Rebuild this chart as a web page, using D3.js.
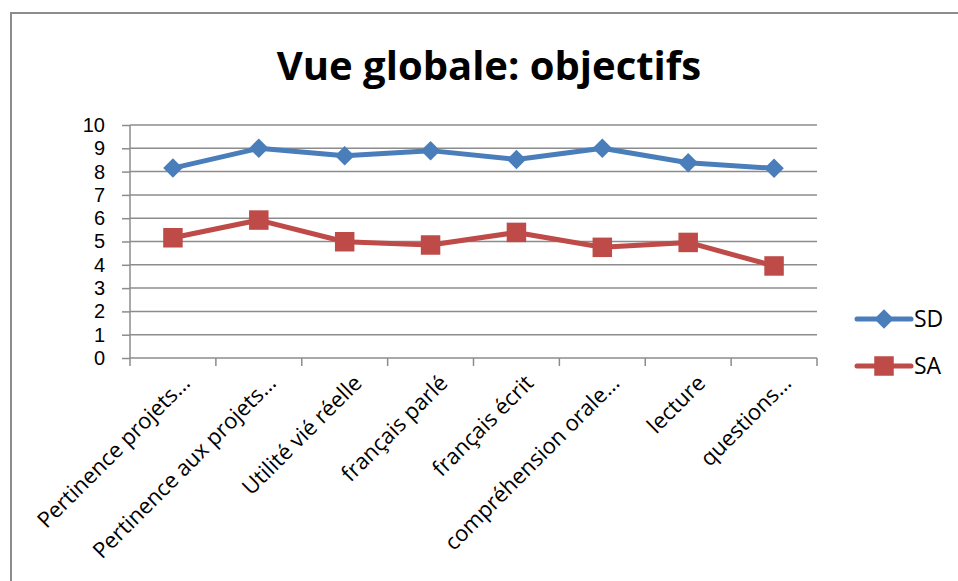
<!DOCTYPE html>
<html>
<head>
<meta charset="utf-8">
<script src="https://d3js.org/d3.v7.min.js"></script>
<style>
  html, body { margin: 0; padding: 0; background: #fff; }
  svg { display: block; font-family: "Open Sans", sans-serif; }
</style>
</head>
<body>
<div id="chart"></div>
<script>
const categories = [
    "Pertinence projets…",
    "Pertinence aux projets…",
    "Utilité vié réelle",
    "français parlé",
    "français écrit",
    "compréhension orale…",
    "lecture",
    "questions…"
];
const sdValues = [8.15, 9.0, 8.68, 8.9, 8.52, 9.0, 8.38, 8.14];
const saValues = [5.16, 5.92, 4.99, 4.85, 5.39, 4.75, 4.96, 3.95];
const yTicks = [0, 1, 2, 3, 4, 5, 6, 7, 8, 9, 10];

// diamond = square turned 45deg
const series = [
    { name: "SD", values: sdValues, color: "#4A7EBB", marker: d3.symbolSquare, size: 190, rot: 45 },
    { name: "SA", values: saValues, color: "#BE4B48", marker: d3.symbolSquare, size: 380, rot: 0 }
];

const width = 958, height = 581;
const plot = { left: 130, right: 817, top: 125, bottom: 358 };

const svg = d3.select("#chart").append("svg")
    .attr("width", width)
    .attr("height", height);

// chart area frame (only top & left edges show in the picture)
svg.append("path")
    .attr("d", `M11,${height + 5} V13 H${width + 5}`)
    .attr("fill", "none")
    .attr("stroke", "#8c8c8c")
    .attr("stroke-width", 2);

svg.append("text")
    .attr("x", 489)
    .attr("y", 80)
    .attr("text-anchor", "middle")
    .style("font-size", "40px")
    .style("font-weight", "bold")
    .text("Vue globale: objectifs");

const x = d3.scaleBand()
    .domain(categories)
    .range([plot.left, plot.right]);

const y = d3.scaleLinear()
    .domain([0, 10])
    .range([plot.bottom, plot.top]);

// gridlines
svg.append("g")
    .selectAll("line")
    .data(yTicks.filter(t => t > 0))
    .enter()
    .append("line")
    .attr("x1", plot.left)
    .attr("x2", plot.right)
    .attr("y1", d => y(d))
    .attr("y2", d => y(d))
    .style("stroke", "#8c8c8c")
    .style("stroke-width", "1.5px");

// y axis
const yAxis = svg.append("g")
    .attr("transform", `translate(${plot.left},0)`)
    .call(d3.axisLeft(y).tickValues(yTicks).tickSize(8).tickPadding(17));
yAxis.selectAll("line, path").style("stroke", "#8c8c8c").style("stroke-width", "1.5px");
yAxis.select(".domain").attr("d", `M0,${plot.top}V${plot.bottom}`);
yAxis.selectAll("text")
    .style("font-size", "20px")
    .style("font-family", "'Liberation Sans', sans-serif")
    .attr("fill", "#000");

// x axis
const xAxis = svg.append("g")
    .attr("transform", `translate(0,${plot.bottom})`)
    .call(d3.axisBottom(x).tickSize(0).tickFormat(""));
xAxis.select(".domain").style("stroke", "#8c8c8c").style("stroke-width", "1.5px")
    .attr("d", `M${plot.left},0H${plot.right}`);

const bounds = x.domain().map(c => x(c)).concat([plot.right]);
xAxis.selectAll(".xtick")
    .data(bounds)
    .enter()
    .append("line")
    .attr("x1", d => d)
    .attr("x2", d => d)
    .attr("y1", 0)
    .attr("y2", 8)
    .style("stroke", "#8c8c8c")
    .style("stroke-width", "1.5px");

svg.append("g")
    .selectAll("text")
    .data(categories)
    .enter()
    .append("text")
    .attr("transform", d => `translate(${x(d) + x.bandwidth() / 2 + 13},${plot.bottom + 21}) rotate(-45)`)
    .attr("text-anchor", "end")
    .attr("dy", "0.35em")
    .style("font-size", "22px")
    .text(d => d);

// lines & markers
const line = d3.line()
    .x((d, i) => x(categories[i]) + x.bandwidth() / 2)
    .y(d => y(d));

series.forEach(s => {
    svg.append("path")
        .datum(s.values)
        .attr("fill", "none")
        .attr("stroke", s.color)
        .attr("stroke-width", 5)
        .attr("stroke-linejoin", "round")
        .attr("d", line);

    svg.append("g")
        .selectAll("path")
        .data(s.values)
        .enter()
        .append("path")
        .attr("transform", (d, i) => `translate(${x(categories[i]) + x.bandwidth() / 2},${y(d)}) rotate(${s.rot})`)
        .attr("d", d3.symbol().type(s.marker).size(s.size))
        .attr("fill", s.color);
});

// legend
const legend = svg.append("g")
    .selectAll("g")
    .data(series)
    .enter()
    .append("g")
    .attr("transform", (d, i) => `translate(857,${319 + i * 47})`);

legend.append("line")
    .attr("x1", 0)
    .attr("x2", 54)
    .attr("stroke", d => d.color)
    .attr("stroke-width", 5)
    .attr("stroke-linecap", "round");

legend.append("path")
    .attr("transform", d => `translate(27,0) rotate(${d.rot})`)
    .attr("d", d => d3.symbol().type(d.marker).size(d.size)())
    .attr("fill", d => d.color);

legend.append("text")
    .attr("x", 57)
    .attr("dy", "0.35em")
    .style("font-size", "23px")
    .text(d => d.name);
</script>
</body>
</html>
